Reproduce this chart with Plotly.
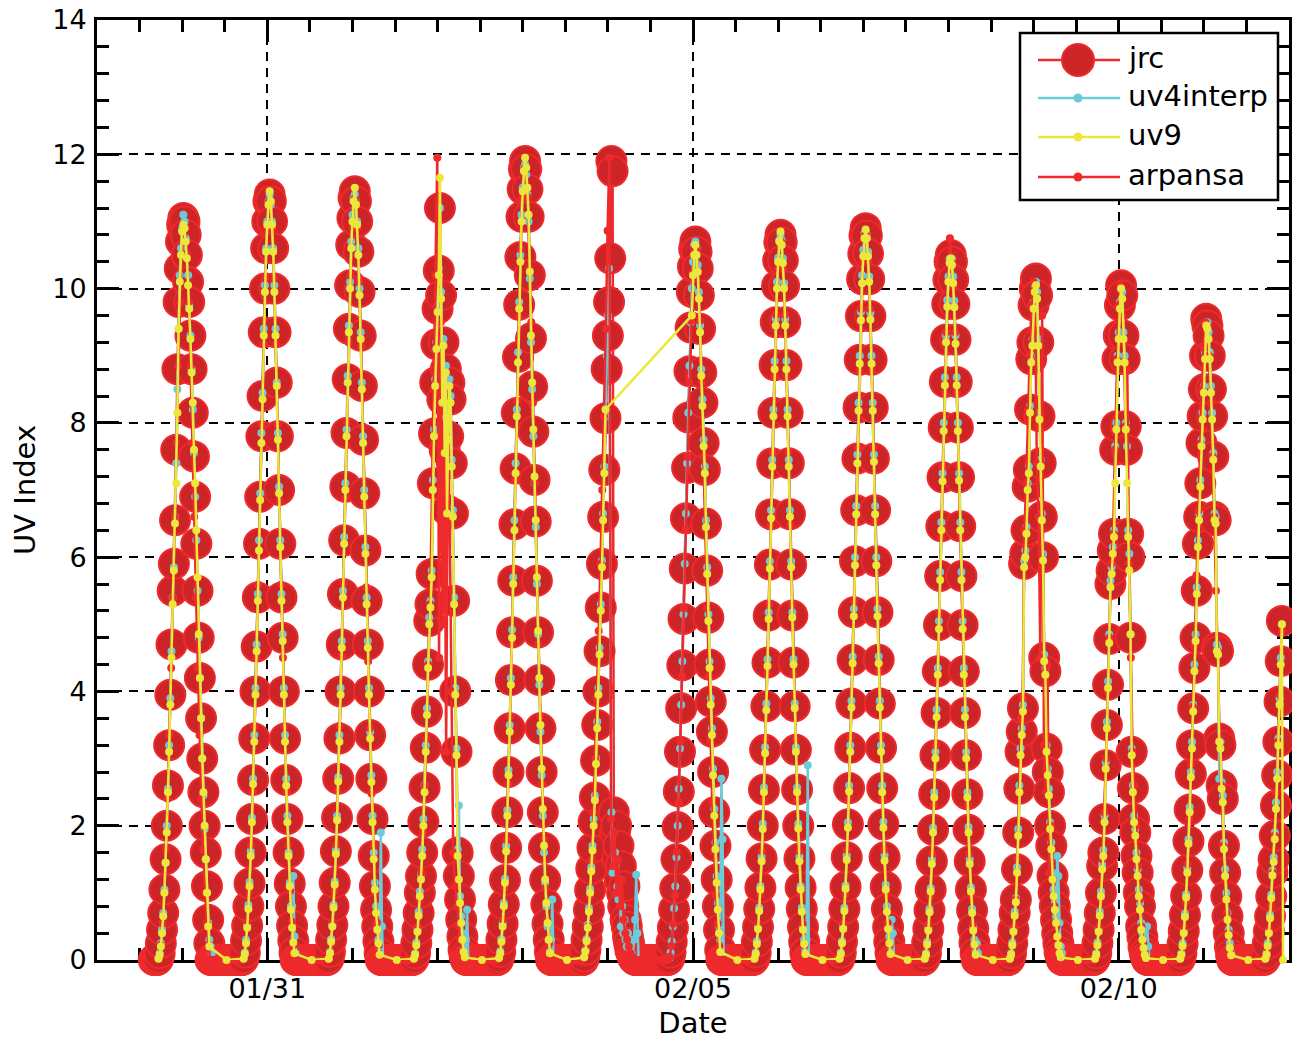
import datetime as dt
import plotly.graph_objects as go

# ---------------- data (UV index readings, UTC) ----------------
BASE = dt.datetime(2013, 1, 29)

# jrc: 20-minute readings from 17:20 UTC of each day (day k = 01/29 + k) to 07:40 next day
jrc_by_day = [
    [0.03,0.1,0.25,0.45,0.7,1.05,1.5,2.0,2.6,3.2,3.95,4.7,5.5,5.9,6.55,7.6,8.8,9.8,10.3,10.7,10.95,11.05,11.0,
     10.8,10.5,10.1,9.8,9.3,8.8,8.15,7.5,6.9,6.2,5.5,4.8,4.2,3.6,3.0,2.5,2.0,1.6,1.1,0.6,0.25],
    [0.03,0.11,0.29,0.51,0.8,1.14,1.6,2.1,2.68,3.3,4.0,4.67,5.4,6.2,6.9,7.8,8.4,9.35,10.0,10.6,11.0,11.3,11.4,
     11.3,11.0,10.6,10.0,9.35,8.6,7.8,7.0,6.2,5.4,4.8,4.0,3.3,2.68,2.1,1.6,1.14,0.8,0.51,0.29,0.11],
    [0.03,0.12,0.3,0.52,0.8,1.15,1.62,2.12,2.7,3.3,4.0,4.7,5.45,6.25,7.05,7.85,8.65,9.4,10.05,10.65,11.05,11.35,11.45,
     11.3,11.0,10.55,9.95,9.3,8.55,7.75,6.95,6.1,5.35,4.7,4.0,3.35,2.7,2.1,1.55,1.1,0.75,0.5,0.28,0.1],
    [0.03,0.1,0.25,0.45,0.7,1.0,1.25,1.6,2.06,2.57,3.16,3.7,4.4,5.05,5.3,5.75,7.1,7.84,8.6,9.17,9.7,10.27,11.2,
     9.9,8.35,9.2,7.6,8.8,6.7,7.8,8.6,8.35,7.4,6.65,5.35,4.0,3.1,1.6,1.25,0.9,0.6,0.35,0.15,0.05],
    [0.04,0.12,0.3,0.54,0.83,1.19,1.67,2.2,2.8,3.45,4.17,4.88,5.65,6.49,7.32,8.15,8.98,9.76,10.47,11.07,11.48,11.78,11.9,
     11.78,11.48,11.07,10.2,9.26,8.54,7.87,7.15,6.53,5.65,4.88,4.17,3.45,2.8,2.2,1.67,1.19,0.83,0.54,0.3,0.12],
    [0.05,0.15,0.3,0.5,0.75,1.04,1.36,1.67,2.06,2.42,2.97,3.5,4.0,4.6,5.25,5.9,6.6,7.3,8.07,8.8,9.3,9.8,10.45,
     11.9,11.75,2.2,1.9,2.0,1.5,1.7,1.2,1.4,1.0,0.8,1.1,0.6,0.5,0.35,0.25,0.15,0.1,0.05,0.02,0.0],
    [0.03,0.11,0.27,0.48,0.75,1.07,1.5,1.98,2.51,3.1,3.75,4.39,5.08,5.83,6.58,7.33,8.08,8.77,9.42,9.95,10.33,10.59,10.7,
     10.55,10.3,9.9,9.4,8.75,8.3,7.7,7.3,6.5,5.8,5.1,4.4,3.85,3.4,2.8,2.2,1.7,1.2,0.8,0.45,0.15],
    [0.03,0.11,0.27,0.49,0.76,1.08,1.51,2.0,2.54,3.13,3.78,4.43,5.13,5.89,6.64,7.4,8.15,8.86,9.5,10.04,10.42,10.69,10.8,
     10.69,10.42,10.04,9.5,8.86,8.15,7.4,6.64,5.89,5.13,4.43,3.78,3.13,2.54,2.0,1.51,1.08,0.76,0.49,0.27,0.11],
    [0.03,0.11,0.27,0.49,0.76,1.09,1.53,2.02,2.56,3.16,3.82,4.47,5.18,5.94,6.7,7.47,8.23,8.94,9.59,10.14,10.52,10.79,10.9,
     10.79,10.52,10.14,9.59,8.94,8.23,7.47,6.7,5.94,5.18,4.47,3.82,3.16,2.56,2.02,1.53,1.09,0.76,0.49,0.27,0.11],
    [0.03,0.1,0.26,0.47,0.74,1.05,1.47,1.94,2.47,3.05,3.68,4.3,4.99,5.72,6.46,7.19,7.93,8.61,9.24,9.77,10.13,10.4,10.5,
     10.4,10.13,9.77,9.24,8.61,7.93,7.19,6.46,5.72,4.99,4.3,3.68,3.05,2.47,1.94,1.47,1.05,0.74,0.47,0.26,0.1],
    [0.03,0.1,0.25,0.45,0.7,0.9,1.35,1.9,2.55,3.1,3.4,3.75,5.9,6.05,6.4,7.05,7.3,8.2,8.95,9.2,9.75,10.0,10.15,
     9.9,9.2,8.1,7.4,6.6,6.0,4.5,4.3,3.15,2.8,2.5,2.0,1.7,1.25,1.0,0.8,0.6,0.4,0.25,0.12,0.05],
    [0.03,0.1,0.25,0.45,0.7,1.0,1.4,1.6,2.1,2.9,3.5,4.1,4.78,5.6,5.8,6.1,6.35,7.6,7.95,8.95,9.3,9.75,10.05,
     9.9,9.3,8.95,7.95,7.6,6.35,6.0,4.8,3.1,2.56,2.1,1.9,1.55,1.3,1.0,0.8,0.5,0.35,0.2,0.1,0.04],
    [0.03,0.1,0.24,0.43,0.67,0.96,1.34,1.77,2.24,2.77,3.2,3.75,4.35,4.8,5.5,6.2,6.6,7.1,7.7,8.1,8.5,9.0,9.55,
     9.45,9.3,9.0,8.5,8.1,7.5,6.6,6.55,4.65,4.6,3.3,3.2,2.6,2.4,1.7,1.3,0.95,0.65,0.4,0.2,0.08],
    [0.03,0.1,0.24,0.43,0.65,0.95,1.3,1.5,1.85,2.3,2.75,3.25,3.85,4.45,5.05],
]
jrc_night_uv = 0.0  # baseline readings overnight (08:00-17:00 UTC)

# uv9: 20-minute readings, same clock as jrc (None = no reading)
N = None
uv9_by_day = [
    [0.02,0.08,0.2,0.4,0.65,1.0,1.45,1.9,2.5,3.1,3.8,4.5,5.3,5.8,6.5,7.1,8.15,9.4,10.1,10.5,10.85,10.95,10.9,
     10.7,10.45,10.05,9.7,9.25,8.75,8.3,7.6,7.1,6.4,5.7,4.85,4.2,3.6,3.0,2.5,2.0,1.5,1.0,0.5,0.2],
    [0.02,0.09,0.25,0.48,0.76,1.1,1.55,2.05,2.62,3.25,3.95,4.6,5.35,6.1,6.85,7.7,8.35,9.3,9.95,10.55,10.95,11.25,11.45,
     11.3,10.95,10.55,9.95,9.3,8.55,7.75,6.95,6.15,5.35,4.75,3.95,3.25,2.6,2.05,1.55,1.1,0.75,0.48,0.26,0.1],
    [0.02,0.1,0.27,0.5,0.78,1.12,1.58,2.08,2.66,3.25,3.95,4.65,5.4,6.2,7.0,7.8,8.6,9.35,10.0,10.6,11.0,11.3,11.5,
     11.25,10.95,10.5,9.9,9.25,8.5,7.7,6.9,6.05,5.3,4.65,3.95,3.3,2.65,2.05,1.5,1.05,0.7,0.45,0.25,0.08],
    [0.02,0.08,0.22,0.42,0.66,0.95,1.2,1.55,2.0,2.5,3.1,3.65,4.35,5.0,5.25,5.7,7.0,7.8,8.55,9.1,9.65,10.2,11.65,
     9.85,8.3,9.15,7.55,8.75,6.65,7.75,8.55,8.3,7.35,6.6,5.3,3.95,3.05,1.55,1.2,0.85,0.55,0.3,0.12,0.04],
    [0.03,0.1,0.27,0.5,0.8,1.15,1.62,2.15,2.75,3.4,4.1,4.8,5.6,6.4,7.25,8.1,8.9,9.7,10.4,11.0,11.45,11.75,11.95,
     11.8,11.5,11.1,10.25,9.3,8.6,7.9,7.2,6.55,5.7,4.9,4.2,3.5,2.85,2.25,1.7,1.2,0.85,0.55,0.3,0.1],
    [0.04,0.13,0.28,0.48,0.72,1.0,1.32,1.63,2.0,2.38,2.92,3.45,3.95,4.55,5.2,5.85,6.55,7.25,8.2],
    [N,N,N,N,N,N,N,N,N,N,N,N,N,N,N,N,N,N,N,9.6,10.2,10.5,10.65,
     10.5,10.25,9.85,9.35,8.7,8.25,7.65,7.25,6.45,5.75,5.05,4.35,3.8,3.35,2.75,2.15,1.65,1.15,0.75,0.4,0.12],
    [0.02,0.09,0.24,0.46,0.73,1.05,1.47,1.95,2.5,3.08,3.72,4.38,5.08,5.83,6.58,7.35,8.1,8.8,9.45,10.0,10.4,10.7,10.85,
     10.65,10.38,10.0,9.45,8.8,8.1,7.35,6.6,5.85,5.1,4.4,3.75,3.1,2.5,1.96,1.47,1.05,0.72,0.45,0.24,0.09],
    [0.02,0.09,0.25,0.46,0.73,1.06,1.49,1.97,2.51,3.1,3.76,4.42,5.12,5.88,6.64,7.4,8.18,8.88,9.53,10.08,10.48,10.75,10.88,
     10.75,10.48,10.1,9.54,8.88,8.18,7.42,6.64,5.88,5.12,4.42,3.76,3.1,2.5,1.97,1.48,1.05,0.72,0.46,0.25,0.09],
    [0.02,0.08,0.23,0.44,0.71,1.02,1.43,1.9,2.42,3.0,3.62,4.25,4.93,5.66,6.4,7.13,7.88,8.56,9.2,9.73,10.1,10.38,10.45,
     10.35,10.08,9.72,9.18,8.56,7.88,7.14,6.4,5.66,4.93,4.25,3.62,3.0,2.42,1.9,1.43,1.02,0.7,0.44,0.23,0.08],
    [0.02,0.08,0.22,0.42,0.66,0.86,1.3,1.85,2.5,3.05,3.35,3.7,5.85,6.0,6.35,7.0,7.25,8.15,8.9,9.15,9.7,9.95,10.05,
     9.85,9.15,8.05,7.35,6.55,5.95,4.45,4.25,3.1,2.75,2.45,1.95,1.65,1.2,0.95,0.75,0.55,0.35,0.22,0.1,0.04],
    [0.02,0.08,0.22,0.42,0.66,0.95,1.35,1.55,2.05,2.85,3.45,4.05,4.72,5.55,5.75,6.05,6.3,7.1,7.9,8.9,9.25,9.7,10.0,
     9.85,9.25,8.9,7.9,7.1,6.3,5.8,4.85,3.05,2.5,2.05,1.85,1.5,1.25,0.95,0.75,0.45,0.3,0.18,0.08,0.03],
    [0.02,0.08,0.21,0.4,0.64,0.93,1.3,1.73,2.2,2.72,3.15,3.7,4.3,4.75,5.45,6.15,6.55,7.05,7.65,8.05,8.45,8.95,9.45,
     9.4,9.25,8.95,8.45,8.05,7.45,6.55,6.5,4.6,4.55,3.25,3.15,2.55,2.35,1.65,1.25,0.9,0.6,0.37,0.18,0.07],
    [0.02,0.08,0.21,0.4,0.62,0.92,1.26,1.46,1.8,2.25,2.7,3.2,3.8,4.4,5.0,0.0],
]
# uv9 single overnight reading at 12:30 UTC after each day (None = missing)
uv9_night = [0.0, 0.0, 0.0, 0.0, 0.0, N, 0.0, 0.0, 0.0, 0.0, 0.0, 0.0, 0.0]

# uv4interp: 20-minute readings from 17:20 UTC to 08:40 UTC next day
uv4interp_by_day = [
    [0.03,0.1,0.25,0.45,0.7,1.05,1.45,2.0,2.55,3.2,3.9,4.6,5.4,5.85,6.6,7.4,8.5,9.4,10.2,10.6,10.9,11.1,11.0,
     10.75,10.5,10.2,9.75,9.3,8.8,8.2,7.55,6.9,6.25,5.5,4.8,4.2,3.6,3.0,2.45,1.95,1.5,1.0,0.55,0.3,0.2,0.1,0.0],
    [0.03,0.11,0.3,0.52,0.82,1.16,1.62,2.12,2.7,3.35,4.05,4.7,5.45,6.25,6.95,7.85,8.45,9.4,10.05,10.6,11.0,11.3,11.4,
     11.25,11.0,10.6,10.05,9.4,8.6,7.85,7.05,6.25,5.45,4.85,4.05,3.35,2.7,2.15,1.6,1.15,0.8,0.8,1.25,0.35,0.1,0.0,0.0],
    [0.03,0.12,0.31,0.53,0.82,1.17,1.64,2.15,2.72,3.35,4.05,4.75,5.5,6.3,7.1,7.9,8.7,9.45,10.1,10.7,11.1,11.35,11.4,
     11.3,11.0,10.6,10.0,9.35,8.6,7.8,7.0,6.15,5.4,4.75,4.05,3.4,2.75,2.15,1.6,1.15,0.8,0.55,0.3,0.2,1.9,0.5,0.0],
    [0.03,0.1,0.26,0.46,0.72,1.02,1.28,1.65,2.1,2.6,3.2,3.75,4.45,5.1,5.35,5.8,7.15,7.9,8.65,9.2,9.75,10.3,11.2,
     9.95,8.4,9.25,7.65,8.85,6.75,7.85,8.65,8.4,7.45,6.7,5.4,4.05,3.15,1.65,2.3,0.95,0.65,0.4,0.18,0.08,0.3,0.75,0.0],
    [0.04,0.13,0.31,0.55,0.85,1.21,1.7,2.23,2.83,3.5,4.2,4.92,5.7,6.55,7.4,8.2,9.05,9.8,10.5,11.1,11.5,11.8,11.85,
     11.7,11.4,11.0,10.15,9.2,8.5,7.8,7.1,6.45,5.6,4.85,4.1,3.4,2.75,2.15,1.6,1.15,0.8,0.5,0.28,0.12,0.3,0.9,0.0],
    [0.05,0.15,0.31,0.52,0.77,1.06,1.38,1.7,2.1,2.45,3.0,3.55,4.05,4.65,5.3,5.95,6.65,7.35,8.1,9.0,9.6,10.3,N,
     2.2,1.3,1.9,1.6,1.4,1.1,0.9,1.2,0.5,0.8,0.4,0.6,0.3,0.2,0.4,0.3,0.2,0.1,0.05,0.3,0.6,1.27,0.4,0.0],
    [0.03,0.11,0.28,0.5,0.77,1.1,1.53,2.0,2.55,3.15,3.8,4.45,5.15,5.9,6.65,7.4,8.15,8.85,9.5,10.0,10.4,10.65,10.7,
     10.6,10.35,9.95,9.45,8.8,8.35,7.75,7.35,6.55,5.85,5.15,4.45,3.9,3.45,2.85,2.25,1.75,1.25,0.85,0.5,0.3,2.7,1.8,0.0],
    [0.03,0.11,0.28,0.5,0.78,1.1,1.54,2.03,2.57,3.17,3.82,4.48,5.18,5.94,6.7,7.45,8.2,8.92,9.55,10.1,10.46,10.72,10.8,
     10.72,10.45,10.08,9.55,8.92,8.2,7.45,6.7,5.94,5.18,4.48,3.82,3.17,2.57,2.03,1.54,1.1,0.78,0.5,0.3,0.15,0.3,2.9,0.0],
    [0.03,0.11,0.28,0.5,0.78,1.11,1.56,2.05,2.6,3.2,3.86,4.52,5.23,6.0,6.76,7.53,8.3,9.0,9.65,10.2,10.58,10.82,10.85,
     10.8,10.55,10.18,9.64,9.0,8.3,7.53,6.76,6.0,5.23,4.52,3.86,3.2,2.6,2.06,1.56,1.12,0.8,0.55,0.35,0.2,0.6,0.4,0.0],
    [0.03,0.1,0.27,0.48,0.76,1.07,1.5,1.97,2.5,3.1,3.73,4.35,5.05,5.78,6.52,7.25,8.0,8.68,9.3,9.83,10.18,10.44,10.45,
     10.44,10.18,9.82,9.3,8.68,8.0,7.25,6.52,5.78,5.05,4.35,3.73,3.1,2.5,1.98,1.5,1.08,0.76,0.5,0.3,0.15,0.25,0.1,0.0],
    [0.03,0.1,0.26,0.46,0.72,0.92,1.38,1.95,2.6,3.15,3.45,3.8,5.95,6.1,6.45,7.1,7.35,8.25,9.0,9.25,9.8,10.05,10.1,
     9.95,9.25,8.15,7.45,6.65,6.05,4.55,4.35,3.2,2.85,2.55,2.05,1.75,1.3,1.05,0.85,0.65,1.55,1.25,0.55,0.2,0.1,0.0,0.0],
    [0.03,0.1,0.26,0.46,0.72,1.02,1.43,1.64,2.15,2.95,3.55,4.15,4.85,5.65,5.85,6.15,6.4,7.65,8.0,9.0,9.35,9.8,10.0,
     9.95,9.35,9.0,8.0,7.65,6.4,6.05,4.85,3.15,2.6,2.15,1.95,1.6,1.35,1.05,0.85,0.55,0.4,0.25,0.15,0.08,0.5,0.2,0.0],
    [0.03,0.1,0.25,0.44,0.69,0.98,1.37,1.8,2.28,2.8,3.25,3.8,4.4,4.85,5.55,6.25,6.65,7.15,7.75,8.15,8.55,9.05,9.5,
     9.5,9.35,9.05,8.55,8.15,7.55,6.65,6.6,4.7,4.65,2.7,3.25,2.65,2.45,1.75,1.35,1.0,0.7,0.45,0.25,0.1,0.05,0.0,0.0],
    [0.03,0.1,0.25,0.44,0.67,0.97,1.33,1.53,1.9,2.35,2.8,3.3,3.9,4.5,5.0],
]

# arpansa: 30-minute readings from 17:25 UTC to 07:25 UTC next day
arpansa_by_day = [
    [0.06,0.22,0.55,1.0,1.65,2.4,3.35,4.35,5.4,6.6,7.7,8.85,9.8,10.5,10.9,10.9,10.5,9.8,8.85,7.7,6.6,5.4,4.35,3.35,2.4,1.65,1.0,0.55,0.22],
    [0.06,0.23,0.57,1.03,1.71,2.51,3.48,4.5,5.59,6.84,7.98,9.18,10.15,10.89,11.29,11.29,10.89,10.15,9.18,7.98,6.84,5.59,4.5,3.48,2.51,1.71,1.03,0.57,0.23],
    [0.06,0.23,0.57,1.03,1.72,2.52,3.49,4.52,5.61,6.87,8.0,9.2,10.2,10.93,11.33,11.3,10.9,10.1,9.15,7.95,6.8,5.55,4.45,3.45,2.48,1.7,1.02,0.56,0.22],
    [0.05,0.2,0.5,0.9,1.3,1.9,2.6,3.3,4.4,5.3,7.0,8.5,10.2,11.95,4.5,9.5,5.0,8.4,3.1,7.8,6.5,4.0,1.6,1.1,0.8,0.5,0.3,0.12,0.05],
    [0.06,0.24,0.6,1.07,1.79,2.62,3.63,4.7,5.83,7.14,8.33,9.58,10.59,11.36,11.78,11.78,11.36,10.3,9.5,8.3,7.1,5.8,4.7,3.63,2.62,1.79,1.07,0.6,0.24],
    [0.05,0.2,0.5,0.95,1.5,2.2,3.0,3.9,4.9,5.9,7.0,8.1,9.4,10.86,11.95,2.1,1.4,1.9,1.0,1.5,0.8,1.2,0.6,0.4,0.3,0.2,0.1,0.05,0.02],
    [0.05,0.21,0.54,0.96,1.61,2.35,3.26,4.23,5.24,6.42,7.49,8.61,9.52,10.22,10.59,10.59,10.22,9.52,8.61,7.49,6.42,5.24,4.23,3.26,2.35,1.61,0.96,0.54,0.21],
    [0.05,0.22,0.54,0.97,1.62,2.38,3.29,4.27,5.29,6.48,7.56,8.69,9.61,10.31,10.69,10.69,10.31,9.61,8.69,7.56,6.48,5.29,4.27,3.29,2.38,1.62,0.97,0.54,0.22],
    [0.05,0.22,0.55,0.98,1.64,2.4,3.32,4.31,5.34,6.54,7.63,8.77,9.7,10.41,10.79,10.79,10.41,9.7,8.77,7.63,6.54,5.34,4.31,3.32,2.4,1.64,0.98,0.55,0.22],
    [0.05,0.21,0.53,0.95,1.58,2.31,3.2,4.15,5.15,6.3,7.35,8.45,9.35,10.1,10.75,10.4,10.03,9.35,8.45,7.35,6.3,5.15,4.15,3.2,2.31,1.58,0.95,0.53,0.21],
    [0.05,0.2,0.5,0.9,1.5,2.5,3.6,3.9,6.4,7.1,8.2,9.0,9.75,10.1,9.9,7.4,6.6,4.5,9.6,3.2,2.5,4.4,1.3,2.0,1.2,0.8,0.5,0.3,0.1],
    [0.05,0.2,0.5,0.9,1.5,2.2,3.0,4.0,4.8,5.9,6.35,7.6,8.95,9.75,10.05,9.6,9.2,7.95,8.8,5.9,4.5,3.1,2.6,2.0,1.4,0.9,0.5,0.25,0.1],
    [0.05,0.19,0.48,0.86,1.43,2.1,2.91,3.77,4.68,5.73,6.69,7.69,8.5,9.12,9.5,9.4,9.0,8.3,7.5,6.6,5.5,4.6,3.3,2.6,1.7,1.2,0.7,0.4,0.15],
    [0.05,0.18,0.45,0.8,1.3,1.85,2.5,3.25,3.95,4.9],
]
arpansa_night_uv = 0.0

X_TICKS = ["2013-01-31", "2013-02-05", "2013-02-10"]
X_RANGE = ["2013-01-29", "2013-02-12"]
Y_RANGE = [0, 14]
LEGEND_NAMES = ["jrc", "uv4interp", "uv9", "arpansa"]

# ---------------- assembling timestamps ----------------
def from_days(days, start, step):
    pts = []
    for k, vals in enumerate(days):
        t0 = BASE + dt.timedelta(days=k) + start
        for i, v in enumerate(vals):
            if v is not None:
                pts.append((t0 + i * step, v))
    return pts

def night_fill(value, first, last, step, n_nights):
    pts = []
    for n in range(n_nights):
        t = BASE + dt.timedelta(days=n + 1) + first
        end = BASE + dt.timedelta(days=n + 1) + last
        while t <= end:
            pts.append((t, value))
            t += step
    return pts

def split(pts):
    pts = sorted(pts)
    return [p[0] for p in pts], [p[1] for p in pts]

M20 = dt.timedelta(minutes=20)
M30 = dt.timedelta(minutes=30)
H = lambda h, m=0: dt.timedelta(hours=h, minutes=m)

jrc_pts = from_days(jrc_by_day, H(17, 20), M20)
jrc_pts += night_fill(jrc_night_uv, H(8), H(17), M20, len(jrc_by_day) - 1)
jrc_pts += [(BASE + H(16) + i * M20, jrc_night_uv) for i in range(4)]
jrc_x, jrc_y = split(jrc_pts)

uv9_pts = from_days(uv9_by_day, H(17, 20), M20)
uv9_pts += [(BASE + dt.timedelta(days=n + 1) + H(12, 30), v) for n, v in enumerate(uv9_night) if v is not None]
uv9_x, uv9_y = split(uv9_pts)

uv4_x, uv4_y = split(from_days(uv4interp_by_day, H(17, 20), M20))

arp_pts = from_days(arpansa_by_day, H(17, 25), M30)
arp_pts += night_fill(arpansa_night_uv, H(7, 55), H(16, 55), M30, len(arpansa_by_day) - 1)
arp_x, arp_y = split(arp_pts)

# ---------------- figure ----------------
RED = "#ee2a2c"
DARKRED = "#cd2427"
CYAN = "#6ccbd9"
YELLOW = "#ece83b"
FONT = "DejaVu Sans"

fig = go.Figure()
fig.add_trace(go.Scatter(x=jrc_x, y=jrc_y, mode="lines+markers", name="jrc",
                         line=dict(color=RED, width=2.5),
                         marker=dict(size=30, color=DARKRED, line=dict(color=RED, width=2)),
                         cliponaxis=False, showlegend=False))
fig.add_trace(go.Scatter(x=uv4_x, y=uv4_y, mode="lines+markers", name="uv4interp",
                         line=dict(color=CYAN, width=2.5),
                         marker=dict(size=8, color=CYAN),
                         cliponaxis=False, showlegend=False))
fig.add_trace(go.Scatter(x=arp_x, y=arp_y, mode="lines+markers", name="arpansa",
                         line=dict(color=RED, width=2.5),
                         marker=dict(size=8, color=RED),
                         cliponaxis=False, showlegend=False))
fig.add_trace(go.Scatter(x=uv9_x, y=uv9_y, mode="lines+markers", name="uv9",
                         line=dict(color=YELLOW, width=2.5),
                         marker=dict(size=8, color=YELLOW),
                         cliponaxis=False, showlegend=False))

# page offset of the figure inside the browser window (default body margin)
PAGE_OFF = 8
W, HGT = 1292, 1032
ML, MR, MT, MB = 89, 11, 12, 80
PW, PH = W - ML - MR, HGT - MT - MB

def px(x_screen):
    return (x_screen - PAGE_OFF - ML) / PW

def py(y_screen):
    return (HGT - MB - (y_screen - PAGE_OFF)) / PH

# custom legend (box, samples, labels), positioned in window pixels
shapes = [dict(type="rect", xref="paper", yref="paper", x0=px(1020), x1=px(1278), y0=py(200), y1=py(33),
               line=dict(color="black", width=2.5), fillcolor="white", layer="above")]
annotations = []
legend_styles = [
    (RED, DARKRED, 32, RED, 2),
    (CYAN, CYAN, 9, CYAN, 0),
    (YELLOW, YELLOW, 9, YELLOW, 0),
    (RED, RED, 9, RED, 0),
]
row_y = [60, 98, 137, 177]
for name, (lc, fc, ms, mlc, mlw), ry in zip(LEGEND_NAMES, legend_styles, row_y):
    shapes.append(dict(type="line", xref="paper", yref="paper", x0=px(1038), x1=px(1120),
                       y0=py(ry), y1=py(ry), line=dict(color=lc, width=2.5), layer="above"))
    shapes.append(dict(type="circle", xref="paper", yref="paper", xsizemode="pixel", ysizemode="pixel",
                       xanchor=px(1078), yanchor=py(ry), x0=-ms / 2, x1=ms / 2, y0=-ms / 2, y1=ms / 2,
                       fillcolor=fc, line=dict(color=mlc, width=mlw), layer="above"))
    annotations.append(dict(text=name, xref="paper", yref="paper", x=px(1126), y=py(ry - 2),
                            xanchor="left", yanchor="middle", showarrow=False,
                            font=dict(family=FONT, size=29, color="black")))

axis_common = dict(showline=True, linecolor="black", linewidth=3, mirror="allticks",
                   ticks="inside", ticklen=22, tickwidth=3, tickcolor="black",
                   showgrid=True, gridcolor="black", gridwidth=1.5, griddash="9px,7px",
                   zeroline=False, layer="below traces", automargin=False,
                   ticklabeloverflow="allow",
                   tickfont=dict(family=FONT, size=27, color="black"))

fig.update_layout(
    width=W, height=HGT,
    margin=dict(l=ML, r=MR, t=MT, b=MB, pad=0, autoexpand=False),
    plot_bgcolor="white", paper_bgcolor="white",
    font=dict(family=FONT, color="black"),
    shapes=shapes, annotations=annotations,
    showlegend=False,
    xaxis=dict(axis_common, type="date", range=X_RANGE,
               tickmode="array", tickvals=X_TICKS, tickformat="%m/%d",
               ticklabelstandoff=3,
               minor=dict(ticks="inside", ticklen=12, tickwidth=2.5, tickcolor="black",
                          dtick=12 * 3600 * 1000, tick0="2013-01-29", showgrid=False),
               title=dict(text="Date", standoff=10, font=dict(family=FONT, size=29, color="black"))),
    yaxis=dict(axis_common, range=Y_RANGE, tickmode="linear", tick0=0, dtick=2,
               ticklabelstandoff=2,
               minor=dict(ticks="inside", ticklen=12, tickwidth=2.5, tickcolor="black",
                          dtick=0.4, showgrid=False),
               title=dict(text="UV Index", standoff=14, font=dict(family=FONT, size=29, color="black"))),
)

fig.write_html("out.html")
